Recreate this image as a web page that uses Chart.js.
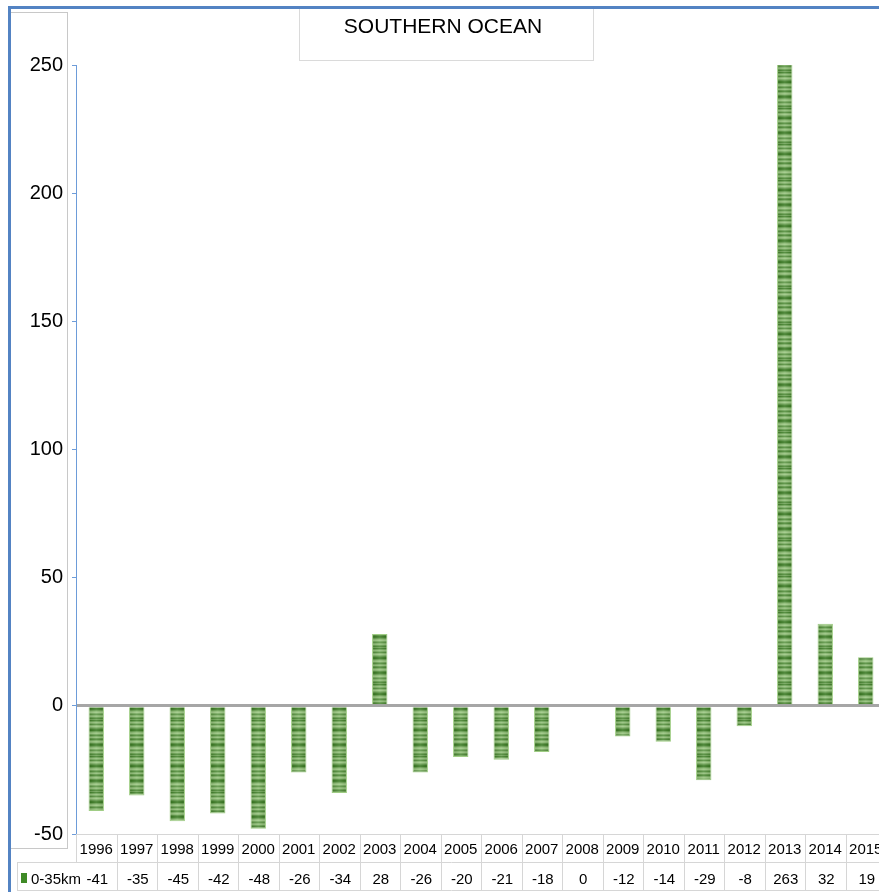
<!DOCTYPE html>
<html>
<head>
<meta charset="utf-8">
<title>Southern Ocean</title>
<script src="https://cdn.jsdelivr.net/npm/chart.js@4.4.1/dist/chart.umd.min.js"></script>
<style>
  html, body { margin: 0; padding: 0; background: #fff; overflow: hidden; }
  #wrap { position: relative; width: 896px; height: 892px; }
</style>
</head>
<body>
<div id="wrap"><canvas id="chart" width="896" height="892"></canvas></div>
<script>
// Annual values for the 0-35km band
const YEARS = ['1996','1997','1998','1999','2000','2001','2002','2003','2004','2005',
               '2006','2007','2008','2009','2010','2011','2012','2013','2014','2015'];
const SERIES_NAME = '0-35km';
const VALUES = [-41, -35, -45, -42, -48, -26, -34, 28, -26, -20,
                -21, -18, 0, -12, -14, -29, -8, 263, 32, 19];
const Y_TICKS = [-50, 0, 50, 100, 150, 200, 250];

const FONT = "'Liberation Sans', Arial, sans-serif";
const BAR_FRACTION = 0.38;
const SOLID = '#5c9e3c';

// Shade of each stripe row in the bar fill (0 = dark green, 1 = pale green)
const STRIPE_TONES = [0.1,0.5,0.8,0.55,0.25,0.7,0.9,0.6,0.3,0.05,0.0,0.4,0.75,0.85,0.45,0.2,0.6,0.8,
                      0.35,0.15,0.55,0.85,0.7,0.25,0.0,0.1,0.45,0.75,0.9,0.55,0.3,0.65,0.8,0.4,0.15,0.5];

const tileCache = {};
function stripeTile(w) {
  if (tileCache[w]) return tileCache[w];
  const h = STRIPE_TONES.length;
  const c = document.createElement('canvas');
  c.width = w; c.height = h;
  const g = c.getContext('2d');
  const img = g.createImageData(w, h);
  const dark = [52, 118, 28], light = [168, 210, 142];
  for (let y = 0; y < h; y++) {
    const t = STRIPE_TONES[y];
    for (let x = 0; x < w; x++) {
      const u = (x + 0.5) / w;
      const glow = 1 - Math.abs(2 * u - 1);
      const k = (y * w + x) * 4;
      for (let ch = 0; ch < 3; ch++) {
        let v = dark[ch] + (light[ch] - dark[ch]) * t;
        v = v * (1 - 0.1 * (1 - glow));
        v = v + (255 - v) * 0.14 * glow;
        img.data[k + ch] = Math.round(v);
      }
      img.data[k + 3] = 255;
    }
  }
  g.putImageData(img, 0, 0);
  tileCache[w] = c;
  return c;
}

function barFill(ctx) {
  if (ctx.type !== 'data') return SOLID;
  const chart = ctx.chart;
  const xs = chart.scales && chart.scales.x;
  const area = chart.chartArea;
  if (!xs || !area) return SOLID;
  const cw = (area.right - area.left) / YEARS.length;
  const w = cw * BAR_FRACTION;
  const left = xs.getPixelForValue(ctx.dataIndex) - w / 2;
  if (!isFinite(left) || !(w > 1)) return SOLID;
  const tw = Math.round(w);
  const pat = chart.ctx.createPattern(stripeTile(tw), 'repeat');
  pat.setTransform(new DOMMatrix([w / tw, 0, 0, 1, left, 0]));
  return pat;
}

// Frame, y-label panel and title box behind the plot
const framePlugin = {
  id: 'frame',
  beforeDraw(chart) {
    const c = chart.ctx;
    c.save();
    c.fillStyle = '#fff';
    c.fillRect(0, 0, chart.width, chart.height);
    c.strokeStyle = '#c8c8c8';
    c.lineWidth = 1;
    c.strokeRect(10.5, 12.5, 57, 836);
    c.strokeStyle = '#dadada';
    c.strokeRect(299.5, 7.5, 294, 53);
    c.restore();
  },
  afterDraw(chart) {
    const c = chart.ctx;
    const area = chart.chartArea;
    const n = YEARS.length;
    const cw = (area.right - area.left) / n;
    const top = Math.round(area.bottom);
    const mid = top + 28;
    const bot = 891;
    c.save();
    // data table grid
    c.strokeStyle = '#d6d6d6';
    c.lineWidth = 1;
    c.beginPath();
    c.moveTo(area.left, top + 0.5); c.lineTo(area.right, top + 0.5);
    c.moveTo(17, mid + 0.5); c.lineTo(area.right, mid + 0.5);
    c.moveTo(17, bot - 0.5); c.lineTo(area.right, bot - 0.5);
    c.moveTo(17.5, mid); c.lineTo(17.5, bot);
    for (let i = 0; i <= n; i++) {
      const x = Math.round(area.left + i * cw) + 0.5;
      c.moveTo(x, top);
      c.lineTo(x, i === 0 ? mid : bot);
    }
    c.stroke();
    // table text
    c.fillStyle = '#000';
    c.font = '15px ' + FONT;
    c.textAlign = 'center';
    c.textBaseline = 'middle';
    for (let i = 0; i < n; i++) {
      const cx = area.left + (i + 0.5) * cw;
      c.fillText(YEARS[i], cx, top + 15.5);
      c.fillText(String(VALUES[i]), cx + 1, mid + 17.5);
    }
    // legend key
    c.fillStyle = '#3f8a26';
    c.fillRect(21, 873, 6, 10);
    c.fillStyle = '#000';
    c.textAlign = 'left';
    c.fillText(SERIES_NAME, 31, mid + 17.5);
    // outer blue frame
    c.fillStyle = '#5383c3';
    c.fillRect(8, 6, chart.width, 3);
    c.fillRect(8, 6, 3, chart.height);
    c.restore();
  }
};

new Chart(document.getElementById('chart'), {
  type: 'bar',
  data: {
    labels: YEARS,
    datasets: [{
      label: SERIES_NAME,
      data: VALUES,
      backgroundColor: barFill,
      borderColor: 'rgba(150,200,120,0.9)',
      borderWidth: 1,
      barPercentage: BAR_FRACTION,
      categoryPercentage: 1
    }]
  },
  options: {
    responsive: false,
    animation: false,
    devicePixelRatio: 1,
    layout: { padding: { left: 0, right: 10, top: 0, bottom: 0 } },
    plugins: {
      legend: { display: false },
      tooltip: { enabled: false },
      title: {
        display: true,
        text: 'SOUTHERN OCEAN',
        color: '#000',
        font: { family: FONT, size: 21, weight: 'normal' },
        padding: { top: 14.5, bottom: 25.3 }
      }
    },
    scales: {
      x: {
        type: 'category',
        grid: { display: false },
        border: { display: false },
        ticks: { display: false },
        afterFit(s) { s.height = 58; }
      },
      y: {
        min: -50,
        max: 250,
        z: 1,
        afterBuildTicks(s) { s.ticks = Y_TICKS.map(v => ({ value: v })); },
        ticks: {
          color: '#000',
          font: { family: FONT, size: 20 },
          padding: 9
        },
        grid: {
          drawOnChartArea: true,
          color: c => (c.tick && c.tick.value === 0) ? '#a6a6a6' : 'rgba(0,0,0,0)',
          lineWidth: c => (c.tick && c.tick.value === 0) ? 3 : 1,
          tickColor: '#6d9cd9',
          tickWidth: 1,
          tickLength: 4
        },
        border: { color: '#6d9cd9', width: 1 },
        afterFit(s) { s.width = 76; }
      }
    }
  },
  plugins: [framePlugin]
});
</script>
</body>
</html>
